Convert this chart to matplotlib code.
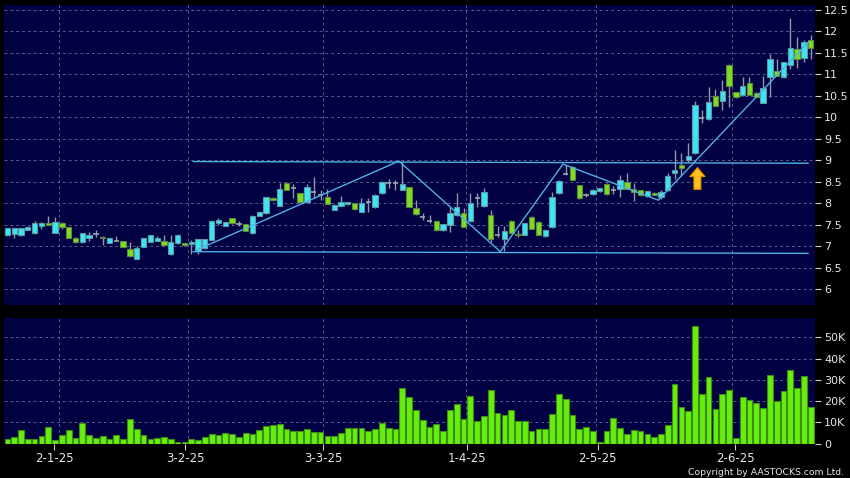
import matplotlib.pyplot as plt
import numpy as np

# daily candles, index 0 = first session shown (19 Dec 2024)
opens = [7.25, 7.27, 7.25, 7.38, 7.30, 7.46, 7.53, 7.31, 7.53, 7.44,
         7.19, 7.09, 7.18, 7.29, 7.22, 7.08, 7.12, 7.11, 6.93, 6.71,
         6.98, 7.10, 7.12, 7.11, 6.81, 7.06, 7.06, 7.04, 6.89, 6.95,
         7.14, 7.53, 7.47, 7.65, 7.51, 7.51, 7.30, 7.70, 7.76, 8.13,
         7.94, 8.46, 8.36, 8.23, 8.02, 8.25, 8.20, 8.14, 7.84, 7.94,
         7.97, 8.00, 7.80, 8.02, 7.90, 8.23, 8.48, 8.46, 8.31, 8.37,
         7.88, 7.68, 7.58, 7.58, 7.37, 7.49, 7.72, 7.76, 7.58, 8.11,
         7.93, 7.72, 7.26, 7.16, 7.59, 7.27, 7.26, 7.68, 7.57, 7.23,
         7.44, 8.23, 8.69, 8.85, 8.42, 8.19, 8.21, 8.28, 8.45, 8.30,
         8.32, 8.50, 8.33, 8.30, 8.16, 8.24, 8.14, 8.30, 8.70, 8.89,
         9.01, 9.16, 9.98, 9.96, 10.49, 10.39, 11.22, 10.59, 10.51, 10.79,
         10.57, 10.34, 10.94, 11.07, 10.93, 11.22, 11.60, 11.39, 11.80]
highs = [7.43, 7.42, 7.43, 7.46, 7.58, 7.55, 7.70, 7.68, 7.55, 7.45,
         7.20, 7.31, 7.32, 7.38, 7.23, 7.19, 7.24, 7.12, 7.09, 7.00,
         7.19, 7.26, 7.23, 7.26, 7.26, 7.27, 7.07, 7.14, 7.17, 7.17,
         7.59, 7.65, 7.56, 7.66, 7.58, 7.52, 7.72, 7.80, 8.15, 8.14,
         8.48, 8.47, 8.44, 8.24, 8.44, 8.62, 8.30, 8.33, 7.97, 8.16,
         8.03, 8.01, 8.13, 8.12, 8.21, 8.51, 8.56, 8.54, 8.96, 8.38,
         8.07, 7.76, 7.72, 7.59, 7.52, 7.92, 8.23, 7.88, 8.23, 8.24,
         8.35, 7.83, 7.47, 7.47, 7.60, 7.37, 7.54, 7.69, 7.58, 7.38,
         8.27, 8.53, 8.88, 8.86, 8.43, 8.24, 8.32, 8.36, 8.46, 8.40,
         8.66, 8.71, 8.46, 8.31, 8.29, 8.25, 8.31, 8.71, 9.24, 9.16,
         9.41, 10.39, 10.17, 10.71, 10.66, 10.88, 11.25, 10.60, 10.95, 10.93,
         10.58, 10.96, 11.48, 11.36, 11.30, 12.31, 11.88, 11.80, 11.92]
lows = [7.23, 7.18, 7.24, 7.37, 7.29, 7.39, 7.48, 7.30, 7.40, 7.19,
        7.08, 7.08, 7.12, 7.21, 7.03, 7.07, 7.11, 6.97, 6.75, 6.70,
        6.97, 7.09, 7.11, 7.01, 6.80, 7.05, 7.01, 6.81, 6.81, 6.94,
        7.13, 7.49, 7.46, 7.52, 7.47, 7.35, 7.29, 7.69, 7.75, 8.06,
        7.93, 8.30, 8.13, 8.01, 8.01, 8.11, 8.07, 7.97, 7.83, 7.93,
        7.96, 7.85, 7.79, 7.80, 7.89, 8.22, 8.36, 8.31, 8.30, 7.91,
        7.73, 7.60, 7.53, 7.36, 7.36, 7.33, 7.71, 7.44, 7.57, 7.92,
        7.92, 7.10, 7.22, 6.88, 7.30, 7.20, 7.25, 7.39, 7.25, 7.22,
        7.43, 8.22, 8.66, 8.53, 8.10, 8.14, 8.20, 8.27, 8.20, 8.22,
        8.15, 8.32, 8.06, 8.17, 8.15, 8.18, 8.09, 8.29, 8.56, 8.64,
        8.95, 9.15, 9.87, 9.94, 10.26, 10.16, 10.23, 10.46, 10.50, 10.52,
        10.47, 10.33, 10.48, 10.96, 10.92, 11.12, 11.15, 11.30, 11.37]
closes = [7.41, 7.41, 7.41, 7.45, 7.53, 7.54, 7.49, 7.56, 7.45, 7.19,
          7.09, 7.30, 7.26, 7.29, 7.18, 7.18, 7.12, 6.98, 6.76, 6.96,
          7.18, 7.25, 7.18, 7.02, 7.09, 7.26, 7.02, 7.09, 7.16, 7.16,
          7.58, 7.61, 7.55, 7.53, 7.51, 7.36, 7.71, 7.79, 8.14, 8.07,
          8.34, 8.31, 8.36, 8.02, 8.37, 8.25, 8.20, 7.98, 7.96, 8.03,
          8.02, 7.86, 8.00, 8.02, 8.20, 8.50, 8.48, 8.46, 8.44, 7.92,
          7.74, 7.68, 7.58, 7.37, 7.51, 7.76, 7.92, 7.45, 8.00, 8.11,
          8.27, 7.16, 7.26, 7.34, 7.31, 7.25, 7.53, 7.40, 7.26, 7.37,
          8.14, 8.52, 8.69, 8.54, 8.11, 8.19, 8.31, 8.35, 8.21, 8.30,
          8.53, 8.33, 8.26, 8.18, 8.28, 8.19, 8.26, 8.63, 8.78, 8.82,
          9.09, 10.29, 9.98, 10.35, 10.27, 10.62, 10.72, 10.47, 10.72, 10.53,
          10.48, 10.68, 11.36, 10.97, 11.29, 11.62, 11.35, 11.75, 11.62]
volume_k = [2.2, 3.1, 6.3, 2.3, 2.0, 3.4, 7.8, 1.6, 4.2, 6.3,
            2.5, 9.8, 4.1, 2.7, 3.6, 2.3, 4.2, 2.0, 11.7, 6.6,
            3.8, 2.0, 2.5, 3.1, 2.3, 0.9, 0.5, 2.3, 1.6, 3.1,
            4.4, 3.8, 4.8, 4.4, 3.1, 4.8, 4.7, 6.3, 8.1, 8.6,
            9.0, 6.9, 6.1, 6.1, 6.7, 5.3, 5.2, 3.4, 3.6, 4.8,
            7.2, 7.5, 7.2, 6.1, 6.7, 9.7, 7.3, 6.9, 26.3, 22.0,
            15.6, 10.9, 7.8, 9.1, 5.9, 15.6, 18.8, 11.6, 22.3, 10.5,
            13.0, 25.3, 14.5, 13.3, 15.9, 10.6, 10.8, 6.1, 6.6, 6.7,
            14.0, 23.2, 21.0, 13.2, 6.8, 7.9, 5.8, 0.6, 5.7, 12.2,
            7.1, 4.6, 6.5, 6.0, 4.4, 3.0, 4.7, 8.5, 28.2, 17.3,
            15.1, 55.3, 23.4, 31.2, 16.4, 23.4, 25.4, 2.8, 22.0, 20.6,
            19.2, 16.6, 32.2, 19.8, 24.8, 34.4, 26.3, 31.9, 17.3]

date_labels = ["2-1-25", "3-2-25", "3-3-25", "1-4-25", "2-5-25", "2-6-25"]
date_ticks = [6.9, 26.1, 46.4, 67.5, 86.7, 106.9]
month_grid = [7.55, 26.5, 46.4, 67.4, 86.5, 106.4]

# drawn pattern: channel + zigzag
chan_x = [27.3, 117.6]
chan_top = [8.97, 8.93]
chan_bot = [6.87, 6.83]
zig_x = [27.8, 57.5, 72.4, 81.6, 95.6, 117.7]
zig_y = [6.91, 8.98, 6.87, 8.91, 8.07, 11.76]
arrow_x = 101.35
arrow_y = (8.32, 8.83)

BG = "#000042"
CYAN = "#3fe4f2"
GREEN = "#7edc24"
GRID = "#5a5a8c"
TXT = "#e6e6e6"

o = np.array(opens)
h = np.array(highs)
l = np.array(lows)
c = np.array(closes)
x = np.arange(len(o))
up = c > o
dn = c < o
dj = c == o

fig = plt.figure(figsize=(8.5, 4.78), dpi=100, facecolor="black")
ax = fig.add_axes([4 / 850, 1 - 305 / 478, 810.5 / 850, 300 / 478])
axv = fig.add_axes([4 / 850, 1 - 443.5 / 478, 810.5 / 850, 125.5 / 478], sharex=ax)

for a in (ax, axv):
    a.set_facecolor(BG)
    for s in a.spines.values():
        s.set_visible(False)
    a.yaxis.tick_right()
    a.tick_params(axis="y", colors="#cfcfcf", labelcolor=TXT, length=4,
                  width=0.8, pad=3, labelsize=8)
    for gx in month_grid:
        a.axvline(gx, color=GRID, lw=0.7, ls=(0, (3, 3)), zorder=0)

# price panel
yt = np.arange(6, 12.51, 0.5)
ax.set_yticks(yt)
ax.set_yticklabels([("%g" % v) for v in yt])
for v in yt:
    ax.axhline(v, color=GRID, lw=0.7, ls=(0, (3, 3)), zorder=0)
ax.set_ylim(5.627, 12.617)
ax.set_xlim(-0.5, 118.55)
ax.tick_params(axis="x", bottom=False, labelbottom=False)

ax.vlines(x, l, h, color="#8d9aa6", lw=1.0, zorder=2)
bw = 0.78
ax.bar(x[up], (c - o)[up], bottom=o[up], width=bw, color=CYAN,
       edgecolor="#5d97a3", lw=0.8, zorder=3)
ax.bar(x[dn], (o - c)[dn], bottom=c[dn], width=bw, color=GREEN,
       edgecolor="#5d8a3a", lw=0.8, zorder=3)
ax.hlines(c[dj], x[dj] - bw / 2, x[dj] + bw / 2, color="#9aa6b0", lw=1.2, zorder=3)

line_c = "#4fb0e4"
ax.plot(chan_x, chan_top, color=line_c, lw=1.0, zorder=4)
ax.plot(chan_x, chan_bot, color=line_c, lw=1.0, zorder=4)
ax.plot(zig_x, zig_y, color=line_c, lw=1.0, zorder=4)
ax.annotate("", xy=(arrow_x, arrow_y[1]), xytext=(arrow_x, arrow_y[0]),
            arrowprops=dict(arrowstyle="simple,head_length=0.65,head_width=1.1,tail_width=0.5",
                            fc="#ffc21a", ec="#e08a00", lw=0.8, shrinkA=0, shrinkB=0,
                            mutation_scale=10), zorder=5)

# volume panel
vt = [0, 10000, 20000, 30000, 40000, 50000]
axv.set_yticks(vt)
axv.set_yticklabels(["0", "10K", "20K", "30K", "40K", "50K"])
for v in vt[1:]:
    axv.axhline(v, color=GRID, lw=0.7, ls=(0, (3, 3)), zorder=0)
axv.set_ylim(0, 59100)
axv.bar(x, np.array(volume_k) * 1000, width=0.84, color="#66ee0e",
        edgecolor="#3f8c12", lw=0.8, zorder=3)
axv.set_xticks(date_ticks)
axv.set_xticklabels(date_labels)
axv.tick_params(axis="x", colors="#cfcfcf", labelcolor=TXT, length=4,
                width=0.8, pad=2, labelsize=8.5)

fig.text(0.993, 0.0125, "Copyright by AASTOCKS.com Ltd.", color=TXT,
         fontsize=6.7, ha="right", va="center")

fig.savefig("out.png", dpi=100, facecolor="black")
